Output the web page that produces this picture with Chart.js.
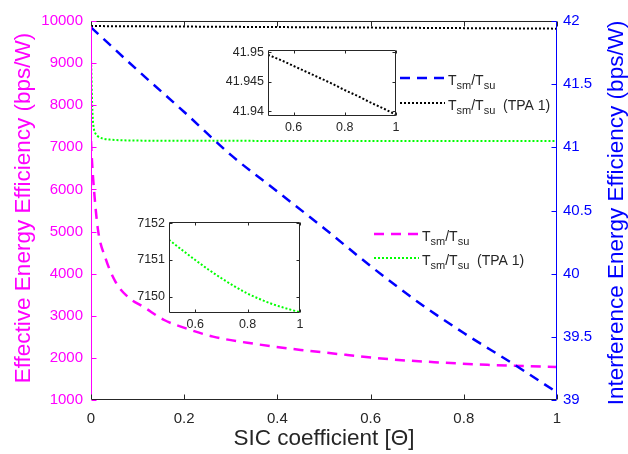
<!DOCTYPE html>
<html>
<head>
<meta charset="utf-8">
<script src="https://cdn.jsdelivr.net/npm/chart.js@4.4.0/dist/chart.umd.min.js"></script>
<style>
  body { margin: 0; background: #fff; }
  #wrap { position: relative; width: 628px; height: 454px; }
  canvas { position: absolute; }
</style>
</head>
<body>
<div id="wrap">
  <canvas id="main" width="628" height="454" style="left:0;top:0"></canvas>
  <canvas id="inset1" width="190" height="108" style="left:216px;top:38px"></canvas>
  <canvas id="inset2" width="190" height="125" style="left:125px;top:210px"></canvas>
</div>
<script>
// --- data ---
const magentaX = [0, 0.002, 0.0065, 0.015, 0.031, 0.053, 0.08, 0.115, 0.157, 0.204, 0.262, 0.35, 0.45, 0.55, 0.65, 0.75, 0.85, 1.0];
const magentaY = [7150, 6700, 5980, 5040, 4370, 3800, 3440, 3195, 2900, 2700, 2505, 2335, 2190, 2070, 1960, 1890, 1835, 1783];

const greenX = [0, 0.001, 0.002, 0.004, 0.006, 0.01, 0.015, 0.025, 0.04, 0.06, 0.1, 0.2, 0.3, 0.4,
                0.5, 0.55, 0.6, 0.65, 0.7, 0.75, 0.8, 0.85, 0.9, 0.95, 1.0];
const greenY = [9150, 8700, 8200, 7650, 7450, 7320, 7260, 7210, 7185, 7170, 7160, 7156, 7154, 7152.8,
                7151.55, 7151.27, 7151.0, 7150.74, 7150.5, 7150.28, 7150.08, 7149.92, 7149.78, 7149.67, 7149.57];

const blueX = [0, 0.1, 0.2, 0.3, 0.4, 0.5, 0.6, 0.7, 0.8, 0.9, 1.0];
const blueY = [41.95, 41.61, 41.28, 40.94, 40.65, 40.36, 40.06, 39.78, 39.53, 39.30, 39.06];

const blackX = [0, 0.1, 0.2, 0.3, 0.4, 0.5, 0.55, 0.6, 0.65, 0.7, 0.75, 0.8, 0.85, 0.9, 0.95, 1.0];
const blackY = [41.96, 41.958, 41.956, 41.954, 41.952, 41.9496, 41.9487, 41.9477, 41.9467, 41.9457,
                41.9447, 41.9436, 41.9426, 41.9415, 41.9405, 41.9394];

const xTicks = [0, 0.2, 0.4, 0.6, 0.8, 1];
const leftTicks = [1000, 2000, 3000, 4000, 5000, 6000, 7000, 8000, 9000, 10000];
const rightTicks = [39, 39.5, 40, 40.5, 41, 41.5, 42];
const insetXTicks = [0.6, 0.8, 1];
const inset1YTicks = [41.94, 41.945, 41.95];
const inset2YTicks = [7150, 7151, 7152];

const MAGENTA = '#ff00ff', BLUE = '#0000ff', GREEN = '#00ff00', BLACK = '#000000', AXIS = '#262626';
const FONT = 'Liberation Sans, Arial, Helvetica, sans-serif';

function pts(xs, ys, from) {
    const out = [];
    xs.forEach((x, i) => { if (from === undefined || x >= from) out.push({x: x, y: ys[i]}); });
    return out;
}

function fixTicks(values) {
    return scale => { scale.ticks = values.map(v => ({value: v})); };
}

// frame + inward tick marks, MATLAB style
function frame(len, colors) {
    return {
        id: 'frame',
        afterDraw(chart) {
            const ctx = chart.ctx, a = chart.chartArea;
            const xs = chart.scales.x;
            const yl = chart.scales.yL || chart.scales.y;
            const yr = chart.scales.yR;
            ctx.save();
            ctx.lineWidth = 1;
            const line = (x1, y1, x2, y2, c) => {
                ctx.strokeStyle = c;
                ctx.beginPath(); ctx.moveTo(x1, y1); ctx.lineTo(x2, y2); ctx.stroke();
            };
            const L = Math.round(a.left) + 0.5, R = Math.round(a.right) - 0.5;
            const T = Math.round(a.top) + 0.5, B = Math.round(a.bottom) - 0.5;
            line(L, T, R, T, colors.top);
            line(L, B, R, B, colors.bottom);
            line(L, T, L, B, colors.left);
            line(R, T, R, B, colors.right);
            xs.ticks.forEach(t => {
                const px = Math.round(xs.getPixelForValue(t.value)) + 0.5;
                line(px, B, px, B - len, colors.bottom);
                line(px, T, px, T + len, colors.top);
            });
            yl.ticks.forEach(t => {
                const py = Math.round(yl.getPixelForValue(t.value)) + 0.5;
                line(L, py, L + len, py, colors.left);
                if (!yr) line(R, py, R - len, py, colors.right);
            });
            if (yr) {
                yr.ticks.forEach(t => {
                    const py = Math.round(yr.getPixelForValue(t.value)) + 0.5;
                    line(R, py, R - len, py, colors.right);
                });
            }
            ctx.restore();
        }
    };
}

const whiteArea = {
    id: 'whiteArea',
    beforeDraw(chart) {
        const a = chart.chartArea;
        chart.ctx.save();
        chart.ctx.fillStyle = '#fff';
        chart.ctx.fillRect(a.left, a.top, a.right - a.left, a.bottom - a.top);
        chart.ctx.restore();
    }
};

// axis titles, both y titles read bottom-to-top like the original
const titles = {
    id: 'titles',
    afterDraw(chart) {
        const ctx = chart.ctx, a = chart.chartArea;
        ctx.save();
        ctx.font = '22.5px ' + FONT;
        ctx.textAlign = 'center';
        ctx.textBaseline = 'alphabetic';
        ctx.fillStyle = AXIS;
        ctx.fillText('SIC coefficient [Θ]', (a.left + a.right) / 2, 445);
        ctx.fillStyle = MAGENTA;
        ctx.save(); ctx.translate(30, 208); ctx.rotate(-Math.PI / 2);
        ctx.fillText('Effective Energy Efficiency (bps/W)', 0, 0);
        ctx.restore();
        ctx.fillStyle = BLUE;
        ctx.save(); ctx.translate(623, 213); ctx.rotate(-Math.PI / 2);
        ctx.fillText('Interference Energy Efficiency (bps/W)', 0, 0);
        ctx.restore();
        ctx.restore();
    }
};

// legend entries with subscripts
function drawEntry(ctx, x, y, color, dash, width, suffix) {
    ctx.save();
    ctx.strokeStyle = color;
    ctx.lineWidth = width;
    ctx.setLineDash(dash);
    ctx.beginPath(); ctx.moveTo(x, y); ctx.lineTo(x + 45, y); ctx.stroke();
    ctx.setLineDash([]);
    ctx.fillStyle = AXIS;
    ctx.textBaseline = 'alphabetic';
    const big = '14px ' + FONT, small = '11px ' + FONT;
    let cx = x + 48;
    const base = y + 7;
    [['T', 0, big], ['sm', 4, small], ['/T', 0, big], ['su', 4, small], [suffix, 0, big]].forEach(p => {
        if (!p[0]) return;
        ctx.font = p[2];
        ctx.fillText(p[0], cx, base + p[1]);
        cx += ctx.measureText(p[0]).width;
    });
    ctx.restore();
}

const legends = {
    id: 'legends',
    afterDraw(chart) {
        const ctx = chart.ctx;
        drawEntry(ctx, 400, 78, BLUE, [10, 7], 2.5, '');
        drawEntry(ctx, 400, 103, BLACK, [2, 2], 2, '  (TPA 1)');
        drawEntry(ctx, 374, 234, MAGENTA, [10, 7], 2.5, '');
        drawEntry(ctx, 374, 258, GREEN, [2, 2], 2, '  (TPA 1)');
    }
};

const tickFont = {family: FONT, size: 15};

new Chart(document.getElementById('main'), {
    type: 'line',
    data: {
        datasets: [
            {data: pts(blueX, blueY), yAxisID: 'yR', borderColor: BLUE, borderWidth: 2.5, borderDash: [10, 7], order: 1},
            {data: pts(blackX, blackY), yAxisID: 'yR', borderColor: BLACK, borderWidth: 2, borderDash: [2, 2], order: 2},
            {data: pts(magentaX, magentaY), yAxisID: 'yL', borderColor: MAGENTA, borderWidth: 2.5, borderDash: [10, 7], order: 3},
            {data: pts(greenX, greenY), yAxisID: 'yL', borderColor: GREEN, borderWidth: 2, borderDash: [2, 2], order: 4}
        ]
    },
    options: {
        responsive: false,
        animation: false,
        devicePixelRatio: 1,
        layout: {padding: {top: 21, left: 0, right: 0, bottom: 0}},
        elements: {point: {radius: 0}, line: {cubicInterpolationMode: 'monotone', fill: false}},
        plugins: {legend: {display: false}, tooltip: {enabled: false}},
        scales: {
            x: {
                type: 'linear', min: 0, max: 1,
                afterBuildTicks: fixTicks(xTicks),
                afterFit: s => { s.height = 54; },
                grid: {display: false, drawTicks: false},
                border: {display: false},
                ticks: {color: AXIS, font: tickFont, padding: 10, maxRotation: 0, callback: v => String(v)}
            },
            yL: {
                type: 'linear', position: 'left', min: 1000, max: 10000,
                afterBuildTicks: fixTicks(leftTicks),
                afterFit: s => { s.width = 91; },
                grid: {display: false, drawTicks: false},
                border: {display: false},
                ticks: {color: MAGENTA, font: tickFont, padding: 8, callback: v => String(v)}
            },
            yR: {
                type: 'linear', position: 'right', min: 39, max: 42,
                afterBuildTicks: fixTicks(rightTicks),
                afterFit: s => { s.width = 71; },
                grid: {display: false, drawTicks: false},
                border: {display: false},
                ticks: {color: BLUE, font: tickFont, padding: 6, callback: v => String(v)}
            }
        }
    },
    plugins: [frame(5, {top: AXIS, bottom: AXIS, left: MAGENTA, right: BLUE}), legends, titles]
});

function insetChart(id, data, color, yMin, yMax, yTicks, pad, yWidth, xHeight) {
    return new Chart(document.getElementById(id), {
        type: 'line',
        data: {datasets: [{data: data, borderColor: color, borderWidth: 2, borderDash: [2, 2]}]},
        options: {
            responsive: false,
            animation: false,
            devicePixelRatio: 1,
            layout: {padding: pad},
            elements: {point: {radius: 0}, line: {cubicInterpolationMode: 'monotone', fill: false}},
            plugins: {legend: {display: false}, tooltip: {enabled: false}},
            scales: {
                x: {
                    type: 'linear', min: 0.5, max: 1,
                    afterBuildTicks: fixTicks(insetXTicks),
                    afterFit: s => { s.height = xHeight; },
                    grid: {display: false, drawTicks: false},
                    border: {display: false},
                    ticks: {color: AXIS, font: {family: FONT, size: 12.5}, padding: 4, maxRotation: 0, callback: v => String(v)}
                },
                y: {
                    type: 'linear', min: yMin, max: yMax,
                    afterBuildTicks: fixTicks(yTicks),
                    afterFit: s => { s.width = yWidth; },
                    grid: {display: false, drawTicks: false},
                    border: {display: false},
                    ticks: {color: AXIS, font: {family: FONT, size: 12.5}, padding: 4, callback: v => String(v)}
                }
            }
        },
        plugins: [whiteArea, frame(3, {top: AXIS, bottom: AXIS, left: AXIS, right: AXIS})]
    });
}

insetChart('inset1', pts(blackX, blackY, 0.5), BLACK, 41.9392, 41.9505, inset1YTicks,
    {top: 8, right: 10, left: 0, bottom: 0}, 52, 30);
insetChart('inset2', pts(greenX, greenY, 0.5), GREEN, 7149.55, 7152.05, inset2YTicks,
    {top: 9, right: 15, left: 0, bottom: 0}, 44, 22);
</script>
</body>
</html>
